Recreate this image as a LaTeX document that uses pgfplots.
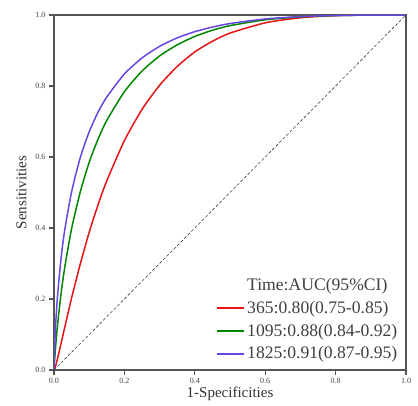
\documentclass[border=0pt]{standalone}
\usepackage{pgfplots}
\pgfplotsset{compat=1.18}
\usepackage{fontspec}
\setmainfont{Liberation Serif}
\definecolor{axgray}{RGB}{85,85,85}
\definecolor{cred}{RGB}{230,20,20}
\definecolor{cgreen}{RGB}{0,135,0}
\definecolor{cpurple}{RGB}{105,70,225}
\begin{document}
\begin{tikzpicture}
\begin{axis}[
  scale only axis, width=352pt, height=355pt,
  xmin=0, xmax=1, ymin=0, ymax=1,
  xtick={0,0.2,...,1.0}, ytick={0,0.2,...,1.0},
  xticklabel style={/pgf/number format/.cd,fixed,fixed zerofill,precision=1},
  yticklabel style={/pgf/number format/.cd,fixed,fixed zerofill,precision=1},
  /pgf/number format/assume math mode=true,
  ticklabel style={font=\fontsize{8}{9}\selectfont, text=axgray!80!black},
  tick align=outside, tick pos=left, major tick length=5pt,
  axis line style={axgray, line width=1.4pt},
  every tick/.style={axgray, line width=1.2pt},
  xlabel={1-Specificities}, ylabel={Sensitivities},
  label style={font=\fontsize{15}{17}\selectfont, text=black!80},
  xlabel style={yshift=4pt},
  ylabel style={yshift=2pt},
  legend style={draw=none, fill=none, at={(0.99,0.015)}, anchor=south east,
    font=\fontsize{17.6}{19}\selectfont, text=black!75, row sep=5pt,
    legend cell align=left},
  legend image code/.code={\draw[#1, line width=1.8pt] (0pt,0pt) -- (27pt,0pt);},
]
\addlegendimage{empty legend}
\addlegendentry{Time:AUC(95\%CI)}
\addplot[cred, line width=1.5pt, smooth, tension=0.4] coordinates {
 (0,0) (0.002,0.0037) (0.005,0.013) (0.01,0.032) (0.02,0.0744) (0.03,0.118)
 (0.05,0.203) (0.075,0.300) (0.1,0.388) (0.125,0.465) (0.15,0.533) (0.2,0.646)
 (0.25,0.734) (0.3,0.802) (0.35,0.855) (0.4,0.896) (0.45,0.926) (0.5,0.949)
 (0.6,0.978) (0.7,0.9923) (0.8,0.9981) (0.9,0.9998) (1,1)};
\addlegendentry{365:0.80(0.75-0.85)}
\addplot[cgreen, line width=1.5pt, smooth, tension=0.4] coordinates {
 (0,0) (0.002,0.0314) (0.005,0.0709) (0.01,0.1263) (0.02,0.2148) (0.03,0.286)
 (0.05,0.398) (0.075,0.503) (0.1,0.585) (0.125,0.650) (0.15,0.703) (0.2,0.784)
 (0.25,0.842) (0.3,0.8846) (0.35,0.916) (0.4,0.9396) (0.45,0.957) (0.5,0.970)
 (0.6,0.9864) (0.7,0.9948) (0.8,0.9985) (0.9,0.9998) (1,1)};
\addlegendentry{1095:0.88(0.84-0.92)}
\addplot[cpurple, line width=1.5pt, smooth, tension=0.4] coordinates {
 (0,0) (0.002,0.0702) (0.005,0.133) (0.01,0.2087) (0.02,0.314) (0.03,0.391)
 (0.05,0.502) (0.075,0.5995) (0.1,0.671) (0.125,0.726) (0.15,0.769) (0.2,0.834)
 (0.25,0.879) (0.3,0.9117) (0.35,0.9355) (0.4,0.953) (0.45,0.966) (0.5,0.976)
 (0.6,0.9888) (0.7,0.9955) (0.8,0.9986) (0.9,0.9998) (1,1)};
\addlegendentry{1825:0.91(0.87-0.95)}
\addplot[black!75, densely dashed, line width=0.6pt, forget plot] coordinates {(0,0) (1,1)};
\end{axis}
\pgfresetboundingbox
\path (-54pt,-35pt) rectangle (364pt,370pt);
\end{tikzpicture}
\end{document}
